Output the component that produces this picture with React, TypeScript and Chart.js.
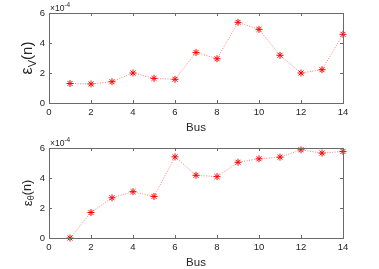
import React, { useEffect, useRef } from "react";
import { Chart, registerables } from "chart.js";

Chart.register(...registerables);

// Data (values in units of 1e-4)
const buses = [1, 2, 3, 4, 5, 6, 7, 8, 9, 10, 11, 12, 13, 14];
const epsV = [1.30, 1.27, 1.42, 2.00, 1.64, 1.58, 3.37, 2.95, 5.38, 4.91, 3.18, 2.00, 2.22, 4.58];
const epsTheta = [0.00, 1.70, 2.68, 3.09, 2.77, 5.41, 4.18, 4.09, 5.05, 5.28, 5.39, 5.88, 5.66, 5.77];
const xTicks = [0, 2, 4, 6, 8, 10, 12, 14];
const yTicks = [0, 2, 4, 6];
const xTitle = "Bus";
const exponentBase = "×10";
const exponentPow = "-4";

const FONT = "'Liberation Sans', Arial, Helvetica, sans-serif";
const AXIS = "#6a6a6a";
const TEXT = "#262626";

type PanelProps = {
  values: number[];
  sub: string;
  labelSize: number;
  top: number;
  height: number;
  areaTop: number;
};

function makePlugin(sub: string, labelSize: number) {
  return {
    id: "matlabBox",
    afterDraw(chart: any) {
      const ctx = chart.ctx as CanvasRenderingContext2D;
      const { left, right, top, bottom } = chart.chartArea;
      const xs = chart.scales.x;
      const ys = chart.scales.y;
      ctx.save();
      ctx.strokeStyle = AXIS;
      ctx.lineWidth = 1;
      ctx.strokeRect(Math.round(left) + 0.5, Math.round(top) + 0.5, Math.round(right - left), Math.round(bottom - top));
      const tl = 3;
      ctx.beginPath();
      xs.ticks.forEach((t: any) => {
        const px = Math.round(xs.getPixelForValue(t.value)) + 0.5;
        ctx.moveTo(px, bottom);
        ctx.lineTo(px, bottom - tl);
        ctx.moveTo(px, top);
        ctx.lineTo(px, top + tl);
      });
      ys.ticks.forEach((t: any) => {
        const py = Math.round(ys.getPixelForValue(t.value)) + 0.5;
        ctx.moveTo(left, py);
        ctx.lineTo(left + tl, py);
        ctx.moveTo(right, py);
        ctx.lineTo(right - tl, py);
      });
      ctx.stroke();

      // exponent label
      ctx.fillStyle = TEXT;
      ctx.textBaseline = "alphabetic";
      ctx.textAlign = "left";
      ctx.font = `8.5px ${FONT}`;
      ctx.fillText(exponentBase, left + 1, top - 2);
      const w = ctx.measureText(exponentBase).width;
      ctx.font = `6.5px ${FONT}`;
      ctx.fillText(exponentPow, left + 1 + w, top - 6);

      // y label: ε_sub(n)
      const cx = 28;
      const cy = (top + bottom) / 2;
      ctx.translate(cx, cy);
      ctx.rotate(-Math.PI / 2);
      ctx.textBaseline = "middle";
      const epsFont = `${labelSize + 1}px ${FONT}`;
      const mainFont = `${labelSize}px ${FONT}`;
      const subFont = `${Math.round(labelSize * 0.7)}px ${FONT}`;
      ctx.font = epsFont;
      const w1 = ctx.measureText("ε").width;
      ctx.font = mainFont;
      const w3 = ctx.measureText("(n)").width;
      ctx.font = subFont;
      const w2 = ctx.measureText(sub).width;
      const x0 = -(w1 + w2 + w3) / 2;
      ctx.font = epsFont;
      ctx.fillText("ε", x0, 0);
      ctx.font = subFont;
      ctx.fillText(sub, x0 + w1, labelSize * 0.32);
      ctx.font = mainFont;
      ctx.fillText("(n)", x0 + w1 + w2, 0);
      ctx.restore();
    },
  };
}

function Panel({ values, sub, labelSize, top, height, areaTop }: PanelProps) {
  const ref = useRef<HTMLCanvasElement | null>(null);
  useEffect(() => {
    if (!ref.current) return;
    const chart = new Chart(ref.current, {
      type: "line",
      data: {
        datasets: [
          {
            data: buses.map((b, i) => ({ x: b, y: values[i] })),
            borderColor: "rgba(255,0,0,0.5)",
            borderWidth: 1,
            borderDash: [1, 1.5],
            pointStyle: "star",
            pointRadius: 3.5,
            pointBorderColor: "#ff0000",
            pointBackgroundColor: "#ff0000",
            pointBorderWidth: 1,
            tension: 0,
            clip: false as any,
          },
        ],
      },
      options: {
        animation: false,
        responsive: false,
        maintainAspectRatio: false,
        layout: { padding: { left: 0, right: 36, top: areaTop, bottom: 0 } },
        plugins: { legend: { display: false }, tooltip: { enabled: false } },
        scales: {
          x: {
            type: "linear",
            min: xTicks[0],
            max: xTicks[xTicks.length - 1],
            afterBuildTicks: (s: any) => {
              s.ticks = xTicks.map((v) => ({ value: v }));
            },
            ticks: { color: TEXT, font: { size: 9.5, family: FONT }, padding: 4, maxRotation: 0 },
            grid: { display: false, drawTicks: false },
            border: { display: false },
            title: { display: true, text: xTitle, color: TEXT, font: { size: 11.5, family: FONT, lineHeight: 1 }, padding: 0 },
            afterFit: (s: any) => {
              s.height = 31;
            },
          },
          y: {
            min: yTicks[0],
            max: yTicks[yTicks.length - 1],
            afterBuildTicks: (s: any) => {
              s.ticks = yTicks.map((v) => ({ value: v }));
            },
            ticks: { color: TEXT, font: { size: 9.5, family: FONT }, padding: 4 },
            grid: { display: false, drawTicks: false },
            border: { display: false },
            afterFit: (s: any) => {
              s.width = 49;
            },
          },
        },
      },
      plugins: [makePlugin(sub, labelSize)],
    });
    return () => chart.destroy();
  }, []);
  return (
    <canvas
      ref={ref}
      width={379}
      height={height}
      style={{ position: "absolute", left: 0, top, width: 379, height }}
    />
  );
}

export default function App() {
  return (
    <div style={{ position: "absolute", left: 0, top: 0, width: 379, height: 269, background: "#fff" }}>
      <Panel values={epsV} sub="V" labelSize={15} top={0} height={134} areaTop={13} />
      <Panel values={epsTheta} sub="θ" labelSize={12.5} top={134} height={135} areaTop={14} />
    </div>
  );
}
